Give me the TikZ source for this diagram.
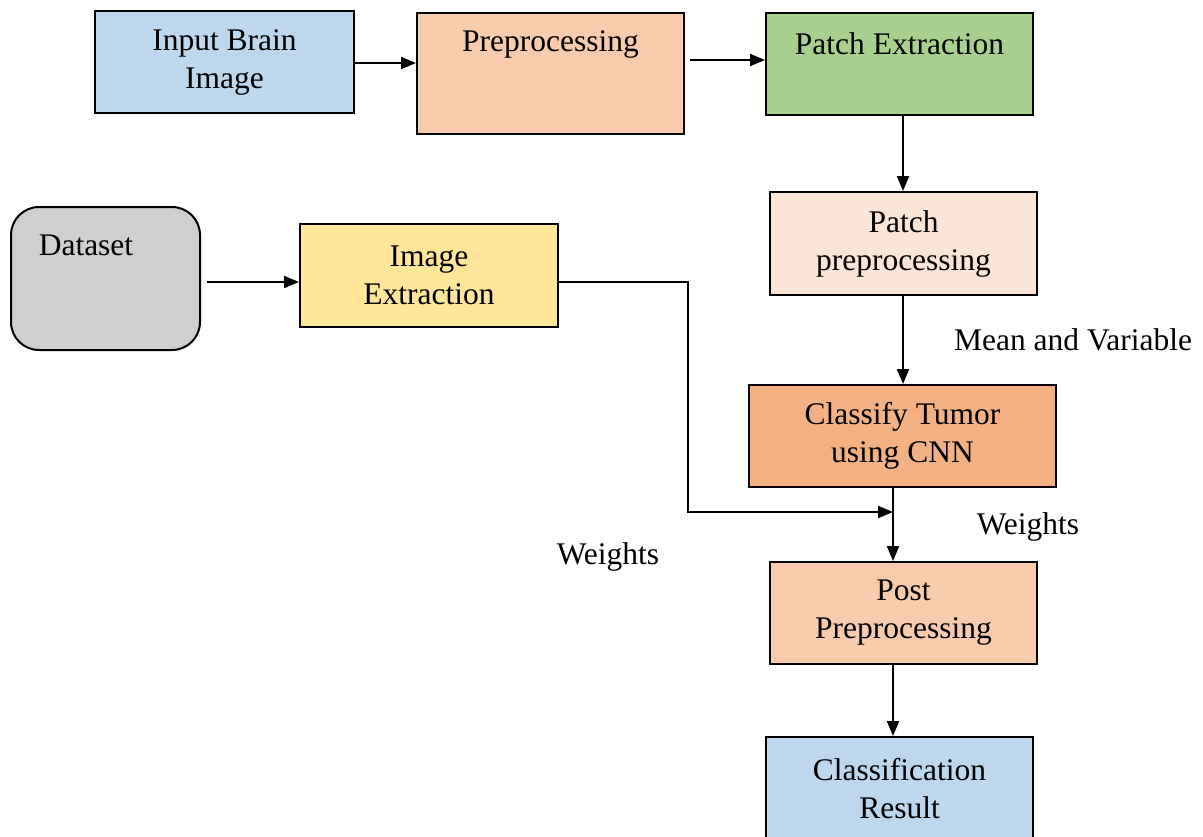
\documentclass[tikz,border=0pt]{standalone}
\usepackage{fontspec}
\setmainfont{Liberation Serif}
\usetikzlibrary{arrows.meta}
\definecolor{cblue}{HTML}{BDD7EE}
\definecolor{cpeach}{HTML}{F8CBAD}
\definecolor{cgreen}{HTML}{A9D18E}
\definecolor{clight}{HTML}{FBE5D6}
\definecolor{cgray}{HTML}{D0CECE}
\definecolor{cyellow}{HTML}{FFE699}
\definecolor{corange}{HTML}{F4B183}
\begin{document}
\begin{tikzpicture}[x=1pt,y=-1pt,
  txt/.style={font=\fontsize{31.5}{38}\selectfont, align=center, inner sep=0pt},
  box/.style={draw=black, line width=2pt, rectangle, inner sep=0pt, txt},
  conn/.style={line width=2pt, -{Triangle[length=15pt,width=12pt]}},
  plain/.style={line width=2pt}]
\useasboundingbox (0,0) rectangle (1203,836);
% boxes
\node[box, fill=cblue, minimum width=259pt, minimum height=102pt] (inp) at (224.5,62) {Input Brain\\Image};
\node[box, fill=cpeach, minimum width=267pt, minimum height=121pt] (pre) at (550.5,73.5) {};
\node[txt] (pretxt) at (550.5,44) {Preprocessing};
\node[box, fill=cgreen, minimum width=267pt, minimum height=102pt] (pex) at (899.5,64) {};
\node[txt] (pextxt) at (899.5,44) {Patch Extraction};
\node[box, fill=clight, minimum width=267pt, minimum height=103pt] (ppre) at (903.5,243.5) {Patch\\preprocessing};
\node[box, fill=cgray, rounded corners=28pt, minimum width=189pt, minimum height=143pt] (ds) at (105.5,278.5) {};
\node[txt] (dstxt) at (86,245) {Dataset};
\node[box, fill=cyellow, minimum width=258pt, minimum height=103pt] (iex) at (429,275.5) {Image\\Extraction};
\node[box, fill=corange, minimum width=307pt, minimum height=102pt] (cls) at (902.5,436) {Classify Tumor\\using CNN};
\node[box, fill=cpeach, minimum width=267pt, minimum height=102pt] (post) at (903.5,613) {Post\\Preprocessing};
\node[box, fill=cblue, minimum width=267pt, minimum height=104pt] (res) at (899.5,789) {Classification\\Result};
% labels
\node[txt] (lmv) at (1073,340) {Mean and Variable};
\node[txt] (lw1) at (1028,527) {Weights};
\node[txt] (lw2) at (608,557) {Weights};
% connectors
\draw[conn] (inp.east |- 0,63) -- (pre.west |- 0,63);
\draw[conn] ([xshift=5pt]pre.east |- 0,60) -- (pex.west |- 0,60);
\draw[conn] (pex.south -| 903,0) -- (ppre.north -| 903,0);
\draw[conn] (ppre.south -| 903,0) -- (cls.north -| 903,0);
\draw[conn] ([xshift=6pt]ds.east |- 0,282) -- (iex.west |- 0,282);
\coordinate (join) at (893,512);
\draw[conn] (iex.east |- 0,282) -- (688,282) -- (688,512) -- (join);
\draw[conn] (cls.south -| 893,0) -- (post.north -| 893,0);
\draw[conn] (post.south -| 893,0) -- (res.north -| 893,0);
\end{tikzpicture}
\end{document}
